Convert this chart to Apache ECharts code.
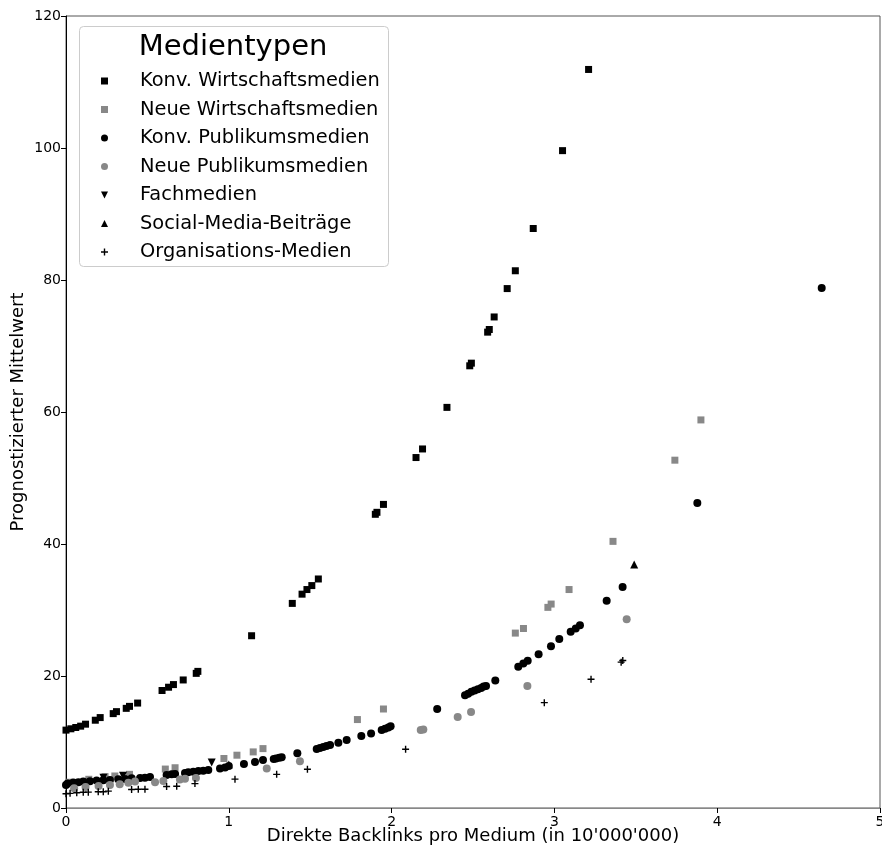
<!DOCTYPE html>
<html>
<head>
<meta charset="utf-8">
<script src="https://cdn.jsdelivr.net/npm/echarts@6/dist/echarts.min.js"></script>
<style>html,body{margin:0;padding:0;background:#fff;}#c{width:882px;height:850px;}</style>
</head>
<body>
<div id="c"></div>
<script>
const seriesNames = ['Konv. Wirtschaftsmedien','Neue Wirtschaftsmedien','Konv. Publikumsmedien','Neue Publikumsmedien','Fachmedien','Social-Media-Beiträge','Organisations-Medien'];
const xTicks = [0,1,2,3,4,5];
const yTicks = [0,20,40,60,80,100,120];

const konvWirtschaft = [[0.0,11.8],[0.03,12.0],[0.06,12.2],[0.09,12.4],[0.12,12.7],[0.18,13.3],[0.21,13.7],[0.29,14.3],[0.31,14.6],[0.37,15.1],[0.39,15.4],[0.44,15.9],[0.59,17.8],[0.63,18.3],[0.66,18.7],[0.72,19.4],[0.80,20.4],[0.81,20.7],[1.14,26.1],[1.39,31.0],[1.45,32.4],[1.48,33.1],[1.51,33.7],[1.55,34.7],[1.90,44.5],[1.91,44.8],[1.95,46.0],[2.15,53.1],[2.19,54.4],[2.34,60.7],[2.48,67.0],[2.49,67.4],[2.59,72.1],[2.60,72.5],[2.63,74.4],[2.71,78.7],[2.76,81.4],[2.87,87.8],[3.05,99.6],[3.21,111.9]];
const neueWirtschaft = [[0.02,3.9],[0.14,4.35],[0.24,4.75],[0.30,4.85],[0.39,5.1],[0.61,5.9],[0.67,6.1],[0.97,7.5],[1.05,8.0],[1.15,8.5],[1.21,9.0],[1.79,13.4],[1.95,15.0],[2.76,26.5],[2.81,27.2],[2.96,30.4],[2.98,30.9],[3.09,33.1],[3.36,40.4],[3.74,52.7],[3.90,58.8]];
const konvPublikum = [[0.0,3.5],[0.01,3.7],[0.045,3.85],[0.076,3.9],[0.106,4.0],[0.147,4.05],[0.188,4.15],[0.229,4.2],[0.27,4.25],[0.321,4.35],[0.362,4.4],[0.403,4.5],[0.455,4.55],[0.485,4.6],[0.516,4.7],[0.618,5.0],[0.649,5.1],[0.67,5.15],[0.731,5.3],[0.751,5.4],[0.782,5.5],[0.813,5.6],[0.843,5.65],[0.874,5.75],[0.946,6.0],[0.977,6.15],[1.0,6.35],[1.093,6.67],[1.161,6.97],[1.21,7.27],[1.276,7.42],[1.29,7.5],[1.31,7.6],[1.325,7.7],[1.421,8.28],[1.54,8.94],[1.56,9.1],[1.58,9.25],[1.60,9.4],[1.622,9.55],[1.673,9.9],[1.724,10.3],[1.814,10.9],[1.874,11.3],[1.939,11.8],[1.96,12.0],[1.98,12.2],[1.994,12.4],[2.28,15.0],[2.451,17.1],[2.47,17.3],[2.49,17.6],[2.51,17.8],[2.53,18.0],[2.55,18.2],[2.565,18.4],[2.58,18.5],[2.637,19.3],[2.778,21.4],[2.809,21.9],[2.836,22.3],[2.903,23.3],[2.979,24.5],[3.03,25.6],[3.10,26.7],[3.131,27.2],[3.157,27.7],[3.321,31.4],[3.419,33.5],[3.878,46.2],[4.642,78.8]];
const neuePublikum = [[0.05,3.0],[0.12,3.2],[0.2,3.35],[0.27,3.5],[0.33,3.6],[0.383,3.84],[0.424,4.0],[0.547,3.9],[0.598,4.1],[0.70,4.3],[0.731,4.45],[0.798,4.55],[1.233,6.0],[1.437,7.1],[2.179,11.8],[2.195,11.9],[2.406,13.8],[2.488,14.55],[2.834,18.5],[3.444,28.6]];
const fachmedien = [[0.23,4.6],[0.35,4.9],[0.895,6.9]];
const socialMedia = [[1.0,6.6],[3.49,36.9]];
const organisationen = [[0.0,2.15],[0.025,2.22],[0.066,2.32],[0.106,2.38],[0.137,2.4],[0.198,2.47],[0.229,2.47],[0.26,2.55],[0.403,2.8],[0.444,2.85],[0.485,2.85],[0.618,3.25],[0.68,3.3],[0.792,3.7],[1.038,4.37],[1.294,5.1],[1.483,5.86],[2.086,8.9],[2.938,15.96],[3.225,19.5],[3.41,22.1],[3.42,22.35]];

const crossPath = 'path://M0.4,0 H0.6 V0.4 H1 V0.6 H0.6 V1 H0.4 V0.6 H0 V0.4 H0.4 Z';
const downTri = 'path://M0,0 L1,0 L0.5,1 Z';
const upTri = 'path://M0.5,0 L1,1 L0,1 Z';

const styles = [
  {data: konvWirtschaft, symbol: 'rect', size: 7, color: '#000000', icon: 'rect'},
  {data: neueWirtschaft, symbol: 'rect', size: 7, color: '#888888', icon: 'rect'},
  {data: konvPublikum, symbol: 'circle', size: 8, color: '#000000', icon: 'circle'},
  {data: neuePublikum, symbol: 'circle', size: 8, color: '#888888', icon: 'circle'},
  {data: fachmedien, symbol: downTri, size: 8, color: '#000000', icon: downTri},
  {data: socialMedia, symbol: upTri, size: 8, color: '#000000', icon: upTri},
  {data: organisationen, symbol: crossPath, size: 7, color: '#000000', icon: crossPath}
];

const chart = echarts.init(document.getElementById('c'), null, {renderer: 'canvas'});
const font = 'DejaVu Sans';
chart.setOption({
  backgroundColor: '#ffffff',
  animation: false,
  textStyle: {fontFamily: font},
  grid: {left: 66, right: 2, top: 16, bottom: 42, containLabel: false, outerBoundsMode: 'none', show: true, borderColor: '#555555', borderWidth: 1, backgroundColor: 'transparent'},
  xAxis: {
    type: 'value', min: xTicks[0], max: xTicks[xTicks.length-1], interval: 1,
    name: "Direkte Backlinks pro Medium (in 10'000'000)", nameLocation: 'middle', nameGap: 19, nameMoveOverlap: false,
    nameTextStyle: {fontFamily: font, fontSize: 18, color: '#000'},
    axisLine: {show: true, onZero: false, lineStyle: {color: '#888888', width: 1}},
    axisTick: {show: true, length: 5, lineStyle: {color: '#000'}},
    axisLabel: {fontFamily: font, fontSize: 14, color: '#000', margin: 7},
    splitLine: {show: false}
  },
  yAxis: {
    type: 'value', min: yTicks[0], max: yTicks[yTicks.length-1], interval: 20,
    name: 'Prognostizierter Mittelwert', nameLocation: 'middle', nameGap: 39, nameMoveOverlap: false,
    nameTextStyle: {fontFamily: font, fontSize: 18, color: '#000'},
    axisLine: {show: true, onZero: false, lineStyle: {color: '#000000', width: 1}},
    axisTick: {show: true, length: 5, lineStyle: {color: '#000'}},
    axisLabel: {fontFamily: font, fontSize: 14, color: '#000', margin: 5},
    splitLine: {show: false}
  },
  graphic: [
    {type: 'rect', shape: {x: 79.5, y: 26.5, width: 309, height: 240, r: 4}, style: {fill: '#ffffff', stroke: '#cccccc', lineWidth: 1}, z: 1},
    {type: 'text', x: 233, y: 47, style: {text: 'Medientypen', fontFamily: font, fontSize: 29, fill: '#000', align: 'center', verticalAlign: 'middle'}, z: 2}
  ],
  legend: {
    orient: 'vertical', left: 96, top: 66,
    itemWidth: 7, itemHeight: 7, itemGap: 8.5,
    data: seriesNames.map((n, i) => ({name: n, icon: styles[i].icon})),
    textStyle: {fontFamily: font, fontSize: 19.4, color: '#000', lineHeight: 20, padding: [0,0,0,27]},
    selectedMode: false
  },
  series: seriesNames.map((n, i) => ({
    name: n, type: 'scatter', data: styles[i].data,
    symbol: styles[i].symbol, symbolSize: styles[i].size,
    itemStyle: {color: styles[i].color, opacity: 1},
    z: 3
  }))
});
</script>
</body>
</html>
